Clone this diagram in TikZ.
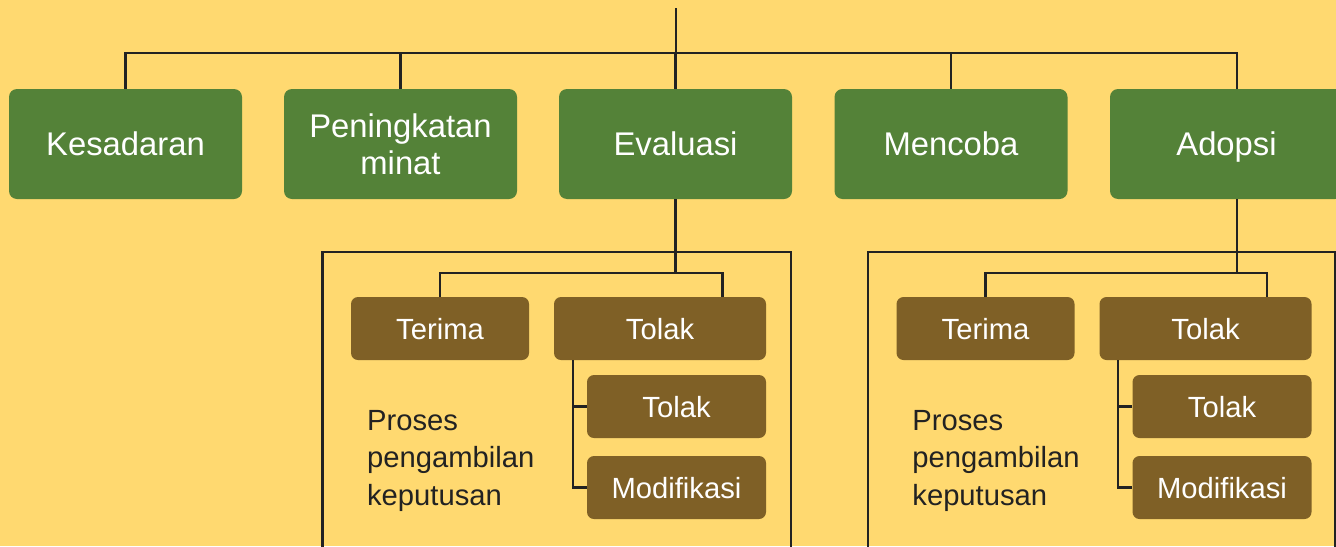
\documentclass[tikz,border=0pt]{standalone}
\usepackage{fontspec}
\setmainfont{Liberation Sans}
\definecolor{bgy}{HTML}{FFD970}
\definecolor{gbox}{HTML}{548238}
\definecolor{bbox}{HTML}{7F6026}
\definecolor{ln}{HTML}{222222}
\begin{document}
\begin{tikzpicture}[x=0.5pt,y=-0.5pt,
  stage/.style={fill=gbox,rounded corners=4pt,minimum width=116.5pt,minimum height=55pt,inner sep=0pt,
    text=white,font=\fontsize{16.4}{18.5}\selectfont,align=center},
  single/.style={text depth=0pt},
  choice/.style={fill=bbox,rounded corners=3.5pt,minimum height=31.5pt,inner sep=0pt,
    text=white,font=\fontsize{14.6}{17}\selectfont,align=center,text depth=0pt},
  wire/.style={draw=ln,line width=1.35pt},
  note/.style={text=ln,font=\fontsize{14.6}{18.75}\selectfont,align=left,inner sep=0pt,anchor=north west}]
\fill[bgy] (0,0) rectangle (1336,546);
\useasboundingbox (0,0) rectangle (1336,546);
\begin{scope}
\clip (0,0) rectangle (1336,546);
% top level
\node[stage,single] (k) at (125.5,144) {Kesadaran};
\node[stage] (p) at (400.5,144) {Peningkatan\\minat};
\node[stage,single] (e) at (675.5,144) {Evaluasi};
\node[stage,single] (m) at (951,144) {Mencoba};
\node[stage,single] (a) at (1226.5,144) {Adopsi};
\coordinate (top) at (676,8);
\coordinate (hub) at (676,53);
\coordinate (ak) at ([xshift=5.25pt]a.north);
\coordinate (as) at ([xshift=5.25pt]a.south);
\draw[wire] (top) -- (hub);
\draw[wire] (k.north) |- (hub) -| (ak);
\draw[wire] (p.north) -- (p.north |- hub);
\draw[wire] (e.north) -- (e.north |- hub);
\draw[wire] (m.north) -- (m.north |- hub);
% frames
\draw[wire] (322.7,560) -- (322.7,252) -- (791,252) -- (791,560);
\draw[wire] (868,560) -- (868,252) -- (1335,252) -- (1335,560);
% group 1
\node[choice,minimum width=89pt] (t1) at (440,328.5) {Terima};
\node[choice,minimum width=106pt] (r1) at (660,328.5) {Tolak};
\node[choice,minimum width=89.5pt] (s1) at (676.5,406.5) {Tolak};
\node[choice,minimum width=89.5pt] (d1) at (676.5,487.5) {Modifikasi};
\coordinate (h1) at (676,273);
\coordinate (rk1) at ([xshift=31.35pt]r1.north);
\coordinate (b1) at ([xshift=9.65pt]r1.south west);
\draw[wire] (e.south) -- (e.south |- h1);
\draw[wire] (t1.north) |- (h1) -| (rk1);
\draw[wire] (b1) |- (d1.west);
\draw[wire] (s1.west) -- (s1.west -| b1);
\node[note] (n1) at (366.7,410) {Proses\\pengambilan\\keputusan};
% group 2
\node[choice,minimum width=89pt] (t2) at (985.5,328.5) {Terima};
\node[choice,minimum width=106pt] (r2) at (1205.5,328.5) {Tolak};
\node[choice,minimum width=89.5pt] (s2) at (1222,406.5) {Tolak};
\node[choice,minimum width=89.5pt] (d2) at (1222,487.5) {Modifikasi};
\coordinate (h2) at (1237,273);
\coordinate (rk2) at ([xshift=30.75pt]r2.north);
\coordinate (b2) at ([xshift=9.5pt]r2.south west);
\draw[wire] (as) -- (as |- h2);
\draw[wire] (t2.north) |- (h2) -| (rk2);
\draw[wire] (b2) |- (d2.west);
\draw[wire] (s2.west) -- (s2.west -| b2);
\node[note] (n2) at (912,410) {Proses\\pengambilan\\keputusan};
\end{scope}
\end{tikzpicture}
\end{document}
